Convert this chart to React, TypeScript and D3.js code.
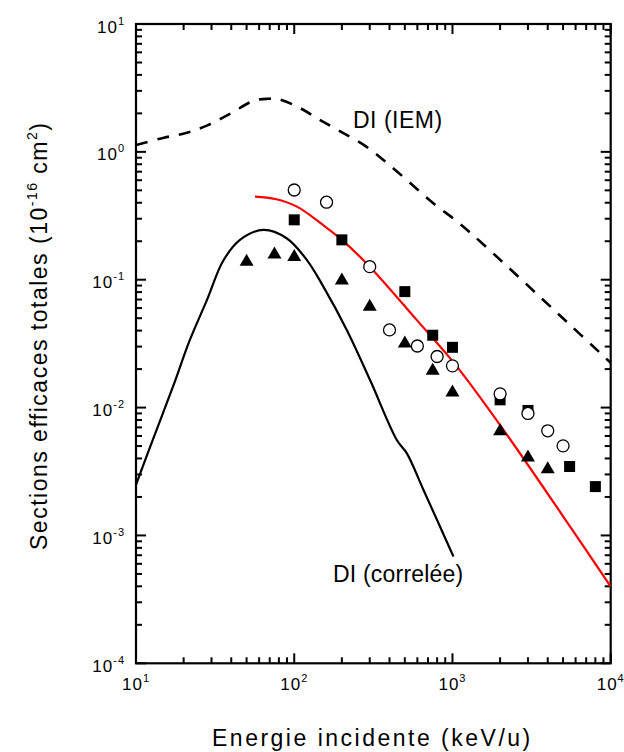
import React from 'react';
import * as d3 from 'd3';

const W = 624;
const H = 752;
const PLOT = { left: 136, right: 610.7, top: 24, bottom: 663.3 };

// tick exponents
const xTickExponents = [1, 2, 3, 4];
const yTickExponents = [1, 0, -1, -2, -3, -4];

// DI (IEM) dashed curve
const iemEnergy = [10, 15, 21, 28.5, 40, 55, 68, 80, 109, 146, 203, 288, 386, 540, 754, 1037, 1390, 5280, 10000];
const iemSigma = [1.13, 1.29, 1.41, 1.62, 2.01, 2.5, 2.6, 2.58, 2.2, 1.77, 1.41, 1.09, 0.818, 0.571, 0.398, 0.294, 0.216, 0.0468, 0.0224];

// red curve
const redEnergy = [56.5, 76, 104, 152, 200, 300, 594, 1064, 2100, 5025, 10000];
const redSigma = [0.447, 0.428, 0.373, 0.268, 0.205, 0.1265, 0.0485, 0.021, 0.0067, 0.0014, 0.000398];

// DI (correlée) solid black curve
const corEnergy = [10, 12.3, 17.1, 21.9, 28.1, 35.5, 45.4, 63.8, 89.5, 120, 152.8, 214.8, 301, 445, 514, 655, 1014];
const corSigma = [0.00249, 0.00496, 0.0145, 0.0338, 0.0695, 0.14, 0.205, 0.245, 0.211, 0.143, 0.0883, 0.0405, 0.0165, 0.00558, 0.0044, 0.00228, 0.000684];

// filled squares
const squareEnergy = [100, 200, 500, 750, 1000, 2000, 3000, 5500, 8000];
const squareSigma = [0.294, 0.205, 0.0807, 0.0368, 0.0296, 0.0115, 0.0095, 0.00346, 0.00241];

// open circles
const circleEnergy = [100, 160, 300, 400, 600, 800, 1000, 2000, 3000, 4000, 5000];
const circleSigma = [0.503, 0.404, 0.1265, 0.0405, 0.0303, 0.0251, 0.0212, 0.0128, 0.009, 0.00658, 0.00502];

// filled triangles
const triangleEnergy = [50, 75, 100, 200, 300, 500, 750, 1000, 2000, 3000, 4000];
const triangleSigma = [0.143, 0.163, 0.156, 0.102, 0.0636, 0.0328, 0.0201, 0.0136, 0.00678, 0.00422, 0.00342];

const FONT = '"Liberation Sans", Arial, sans-serif';

export default function App() {
  const x = d3.scaleLog().domain([10, 10000]).range([PLOT.left, PLOT.right]);
  const y = d3.scaleLog().domain([1e-4, 10]).range([PLOT.bottom, PLOT.top]);

  const line = d3
    .line<[number, number]>()
    .x((d) => x(d[0]))
    .y((d) => y(d[1]))
    .curve(d3.curveCatmullRom.alpha(0.5));

  const zip = (a: number[], b: number[]) => a.map((v, i) => [v, b[i]] as [number, number]);

  const xMajor = xTickExponents.map((e) => Math.pow(10, e));
  const yMajor = yTickExponents.map((e) => Math.pow(10, e));
  const xMinor: number[] = [];
  for (let e = 1; e < 4; e++) for (let k = 2; k <= 9; k++) xMinor.push(k * Math.pow(10, e));
  const yMinor: number[] = [];
  for (let e = -4; e < 1; e++) for (let k = 2; k <= 9; k++) yMinor.push(k * Math.pow(10, e));

  const MAJ = 10;
  const MIN = 6;
  const tickStyle = { stroke: '#000', strokeWidth: 2 };

  const tri = (cx: number, cy: number) => {
    const w = 14, h = 12;
    return `M${cx - w / 2},${cy + h / 2}L${cx + w / 2},${cy + h / 2}L${cx},${cy - h / 2}Z`;
  };

  return (
    <svg width={W} height={H} style={{ position: 'absolute', left: 0, top: 0, background: '#fff' }} fontFamily={FONT}>
      <rect x={0} y={0} width={W} height={H} fill="#fff" />
      <defs>
        <clipPath id="plotclip">
          <rect x={PLOT.left} y={PLOT.top} width={PLOT.right - PLOT.left} height={PLOT.bottom - PLOT.top} />
        </clipPath>
      </defs>

      {/* ticks */}
      {xMajor.map((v) => (
        <g key={'xM' + v}>
          <line x1={x(v)} x2={x(v)} y1={PLOT.bottom} y2={PLOT.bottom - MAJ} {...tickStyle} />
          <line x1={x(v)} x2={x(v)} y1={PLOT.top} y2={PLOT.top + MAJ} {...tickStyle} />
        </g>
      ))}
      {xMinor.map((v) => (
        <g key={'xm' + v}>
          <line x1={x(v)} x2={x(v)} y1={PLOT.bottom} y2={PLOT.bottom - MIN} {...tickStyle} />
          <line x1={x(v)} x2={x(v)} y1={PLOT.top} y2={PLOT.top + MIN} {...tickStyle} />
        </g>
      ))}
      {yMajor.map((v) => (
        <g key={'yM' + v}>
          <line y1={y(v)} y2={y(v)} x1={PLOT.left} x2={PLOT.left + MAJ} {...tickStyle} />
          <line y1={y(v)} y2={y(v)} x1={PLOT.right} x2={PLOT.right - MAJ} {...tickStyle} />
        </g>
      ))}
      {yMinor.map((v) => (
        <g key={'ym' + v}>
          <line y1={y(v)} y2={y(v)} x1={PLOT.left} x2={PLOT.left + MIN} {...tickStyle} />
          <line y1={y(v)} y2={y(v)} x1={PLOT.right} x2={PLOT.right - MIN} {...tickStyle} />
        </g>
      ))}

      {/* frame */}
      <rect
        x={PLOT.left}
        y={PLOT.top}
        width={PLOT.right - PLOT.left}
        height={PLOT.bottom - PLOT.top}
        fill="none"
        stroke="#000"
        strokeWidth={2.2}
      />

      {/* tick labels */}
      {xTickExponents.map((e) => (
        <text key={'xl' + e} x={x(Math.pow(10, e))} y={690} textAnchor="middle" fontSize={17} letterSpacing={1}>
          <tspan>10</tspan>
          <tspan dy={-8} fontSize={11}>{e}</tspan>
        </text>
      ))}
      {yTickExponents.map((e) => (
        <text key={'yl' + e} x={125} y={y(Math.pow(10, e)) + 8.5} textAnchor="end" fontSize={17} letterSpacing={1}>
          <tspan>10</tspan>
          <tspan dy={-8} fontSize={11}>{e}</tspan>
        </text>
      ))}

      {/* curves */}
      <g clipPath="url(#plotclip)" fill="none">
        <path d={line(zip(iemEnergy, iemSigma)) || ''} stroke="#000" strokeWidth={2.6} strokeDasharray="12,10" />
        <path d={line(zip(corEnergy, corSigma)) || ''} stroke="#000" strokeWidth={2.2} />
        <path d={line(zip(redEnergy, redSigma)) || ''} stroke="#ff0000" strokeWidth={2.2} />
      </g>

      {/* markers */}
      {zip(squareEnergy, squareSigma).map((d, i) => (
        <rect key={'s' + i} x={x(d[0]) - 5.5} y={y(d[1]) - 5.5} width={11} height={11} fill="#000" />
      ))}
      {zip(circleEnergy, circleSigma).map((d, i) => (
        <circle key={'c' + i} cx={x(d[0])} cy={y(d[1])} r={6} fill="#fff" stroke="#000" strokeWidth={1.3} />
      ))}
      {zip(triangleEnergy, triangleSigma).map((d, i) => (
        <path key={'t' + i} d={tri(x(d[0]), y(d[1]))} fill="#000" />
      ))}

      {/* annotations */}
      <text x={353} y={128.3} fontSize={23} letterSpacing={0.5}>DI (IEM)</text>
      <text x={333} y={581.5} fontSize={23} letterSpacing={0.2}>DI (correlée)</text>

      {/* axis titles */}
      <text x={212} y={746} fontSize={23} letterSpacing={2.5}>Energie incidente (keV/u)</text>
      <text transform="translate(47,550) rotate(-90)" fontSize={23} letterSpacing={1.5}>
        <tspan>Sections efficaces totales (10</tspan>
        <tspan dy={-10} fontSize={14}>-16</tspan>
        <tspan dy={10}> cm</tspan>
        <tspan dy={-10} fontSize={14}>2</tspan>
        <tspan dy={10}>)</tspan>
      </text>
    </svg>
  );
}
